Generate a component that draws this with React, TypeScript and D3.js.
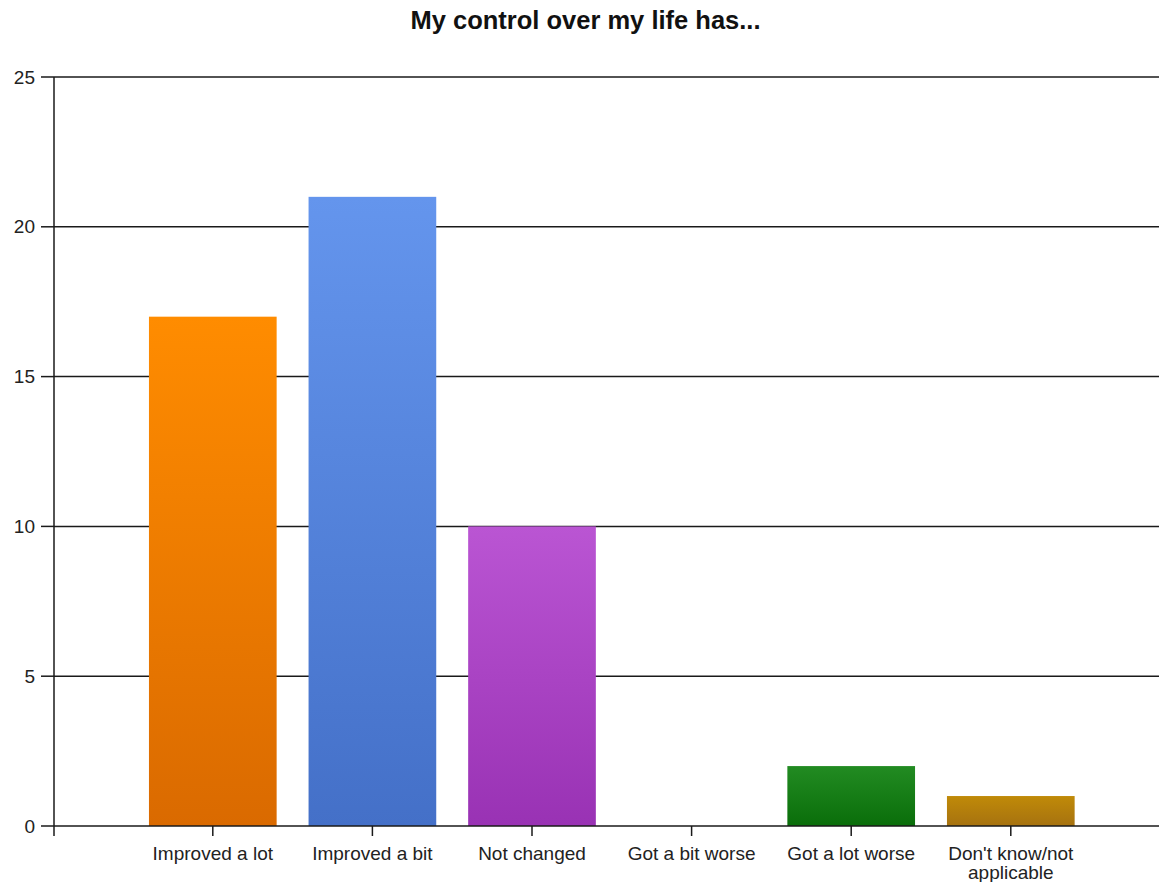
import React from "react";
import * as d3 from "d3";

const title = "My control over my life has...";
const categories = [
  "Improved a lot",
  "Improved a bit",
  "Not changed",
  "Got a bit worse",
  "Got a lot worse",
  "Don't know/not applicable",
];
const values = [17, 21, 10, 0, 2, 1];
const topColors = ["#FF8C00", "#6495ED", "#BA55D3", "#A9A9A9", "#228B22", "#C08A08"];
const bottomColors = ["#DA6A00", "#4470C8", "#9932B4", "#808080", "#0A6E0A", "#A67210"];
const yTicks = [0, 5, 10, 15, 20, 25];
const labelLines: string[][] = [
  ["Improved a lot"],
  ["Improved a bit"],
  ["Not changed"],
  ["Got a bit worse"],
  ["Got a lot worse"],
  ["Don't know/not", "applicable"],
];

const W = 1159;
const H = 882;
const axisX = 54;
const plotRight = 1159;
const plotTop = 77;
const plotBottom = 826;
const font = "'Liberation Sans', Arial, sans-serif";

export default function App() {
  const y = d3.scaleLinear().domain([0, 25]).range([plotBottom, plotTop]);
  const x = d3
    .scaleBand<string>()
    .domain(categories)
    .range([133, 1090.6])
    .paddingInner(0.2)
    .paddingOuter(0.1);

  const lineColor = "#1a1a1a";

  return (
    <svg
      width={W}
      height={H}
      style={{ position: "absolute", left: 0, top: 0, background: "#fff" }}
    >
      <defs>
        {categories.map((c, i) => (
          <linearGradient key={c} id={`g${i}`} x1="0" y1="0" x2="0" y2="1">
            <stop offset="0" stopColor={topColors[i]} />
            <stop offset="1" stopColor={bottomColors[i]} />
          </linearGradient>
        ))}
      </defs>
      <rect x={0} y={0} width={W} height={H} fill="#fff" />
      <text
        x={585.5}
        y={29}
        textAnchor="middle"
        fontFamily={font}
        fontWeight="bold"
        fontSize={25.5}
        fill="#111"
      >
        {title}
      </text>

      {/* gridlines and y ticks */}
      {yTicks.map((t) => (
        <g key={t}>
          {t > 0 && (
            <line
              x1={axisX}
              x2={plotRight}
              y1={y(t)}
              y2={y(t)}
              stroke={lineColor}
              strokeWidth={1.5}
            />
          )}
          <line x1={41} x2={axisX} y1={y(t)} y2={y(t)} stroke={lineColor} strokeWidth={1.5} />
          <text
            x={35}
            y={y(t)}
            dy="0.35em"
            textAnchor="end"
            fontFamily={font}
            fontSize={19}
            fill="#222"
          >
            {t}
          </text>
        </g>
      ))}

      {/* bars */}
      {categories.map((c, i) =>
        values[i] > 0 ? (
          <rect
            key={c}
            x={x(c)}
            y={y(values[i])}
            width={x.bandwidth()}
            height={y(0) - y(values[i])}
            fill={`url(#g${i})`}
          />
        ) : null
      )}

      {/* axes */}
      <line x1={axisX} x2={axisX} y1={plotTop} y2={plotBottom + 10} stroke={lineColor} strokeWidth={1.5} />
      <line x1={axisX} x2={plotRight} y1={plotBottom} y2={plotBottom} stroke={lineColor} strokeWidth={1.5} />

      {categories.map((c, i) => {
        const cx = (x(c) as number) + x.bandwidth() / 2;
        return (
          <g key={c}>
            <line x1={cx} x2={cx} y1={plotBottom} y2={plotBottom + 10} stroke={lineColor} strokeWidth={1.5} />
            {labelLines[i].map((ln, j) => (
              <text
                key={j}
                x={cx}
                y={860 + j * 19}
                textAnchor="middle"
                fontFamily={font}
                fontSize={19}
                fill="#222"
              >
                {ln}
              </text>
            ))}
          </g>
        );
      })}
    </svg>
  );
}
